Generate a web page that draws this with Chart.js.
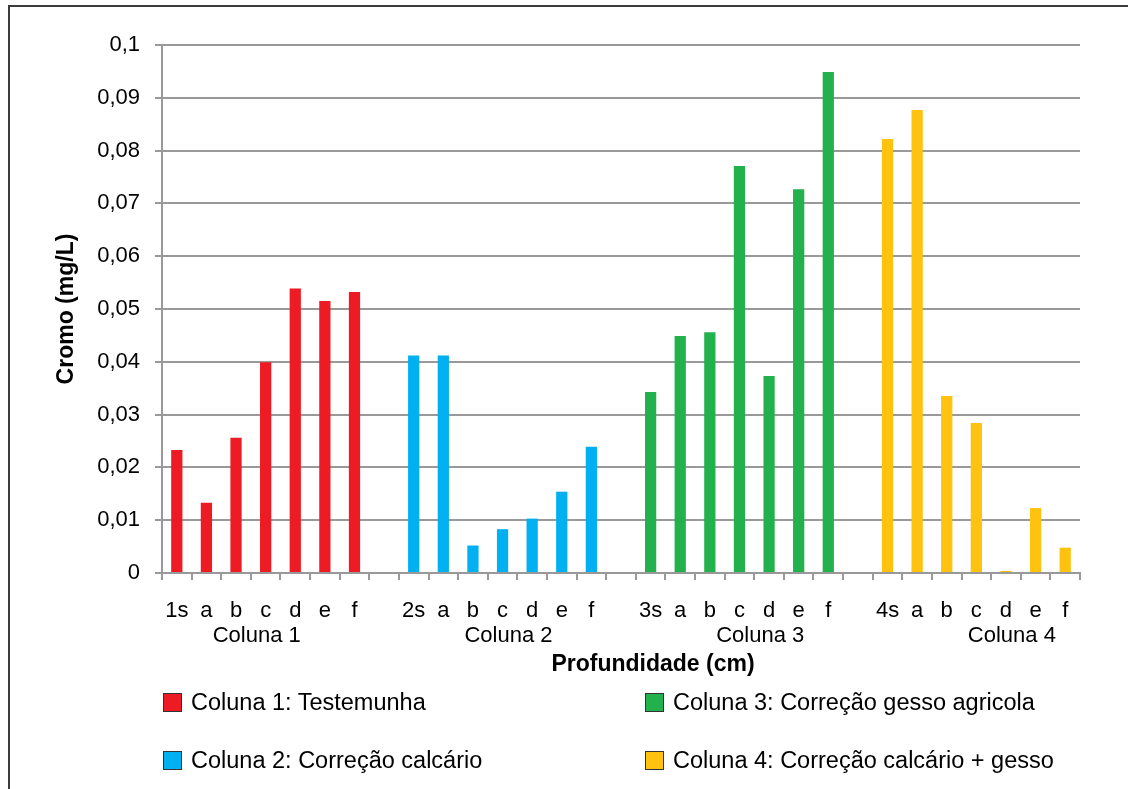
<!DOCTYPE html>
<html>
<head>
<meta charset="utf-8">
<script src="https://cdn.jsdelivr.net/npm/chart.js@4.4.1/dist/chart.umd.min.js"></script>
<style>
  body { margin: 0; width: 1128px; height: 789px; overflow: hidden; background: #fff; font-family: "Liberation Sans", Arial, sans-serif; }
  #frame { position: absolute; left: 8px; top: 5px; width: 1300px; height: 900px; border: 2px solid #3c3c3c; box-sizing: border-box; }
  #chartBox { position: absolute; left: 0; top: 0; }
  #legend { position: absolute; left: 163px; top: 689px; display: grid; grid-template-columns: 482px auto; grid-auto-rows: 58px; }
  .item { display: flex; align-items: center; height: 26px; font-size: 23.5px; color: #000; }
  .box { width: 17px; height: 17px; border: 1.5px solid #333; margin-right: 9px; }
</style>
</head>
<body>
<div id="frame"></div>
<div id="chartBox"><canvas id="cromoChart" width="1128" height="690"></canvas></div>
<div id="legend"></div>
<script>
const xLabels = ['1s','a','b','c','d','e','f','', '2s','a','b','c','d','e','f','',
                 '3s','a','b','c','d','e','f','', '4s','a','b','c','d','e','f'];
const groupNames = ['Coluna 1', 'Coluna 2', 'Coluna 3', 'Coluna 4'];
const seriesNames = ['Coluna 1: Testemunha', 'Coluna 2: Correção calcário',
                     'Coluna 3: Correção gesso agricola', 'Coluna 4: Correção calcário + gesso'];
const coluna1 = [0.0233, 0.0133, 0.0256, 0.0399, 0.0539, 0.0515, 0.0532];
const coluna2 = [0.0412, 0.0412, 0.0052, 0.0083, 0.0103, 0.0154, 0.0239];
const coluna3 = [0.0343, 0.0449, 0.0456, 0.0771, 0.0373, 0.0727, 0.0949];
const coluna4 = [0.0822, 0.0877, 0.0335, 0.0284, 0.0004, 0.0123, 0.0048];
const colors = ['#ed1c24', '#00b0f0', '#22b14c', '#ffc20e'];

const FONT = 'Liberation Sans';

// each coluna sits in its own block of 8 slots (7 depths + a gap)
function spread(values, k) {
  const out = new Array(xLabels.length).fill(null);
  values.forEach((v, i) => { out[k * 8 + i] = v; });
  return out;
}

const allSeries = [coluna1, coluna2, coluna3, coluna4];

// second label row + x title (excel puts the title a bit right of centre)
const groupLabels = {
  id: 'groupLabels',
  afterDraw(chart) {
    const ctx = chart.ctx;
    const x = chart.scales.x;
    ctx.save();
    ctx.fillStyle = '#000';
    ctx.textAlign = 'center';
    ctx.textBaseline = 'middle';
    ctx.font = '22px ' + FONT;
    groupNames.forEach((name, k) => {
      ctx.fillText(name, x.getPixelForValue(2.7 + 8.5 * k), 636);
    });
    ctx.font = 'bold 23px ' + FONT;
    ctx.fillText('Profundidade (cm)', (chart.chartArea.left + chart.chartArea.right) / 2 + 32, 665);
    ctx.restore();
  }
};

const ctx = document.getElementById('cromoChart').getContext('2d');
new Chart(ctx, {
  type: 'bar',
  data: {
    labels: xLabels,
    datasets: allSeries.map((vals, k) => ({
      label: seriesNames[k],
      data: spread(vals, k),
      backgroundColor: colors[k],
      grouped: false,
      barPercentage: 0.38,
      categoryPercentage: 1
    }))
  },
  options: {
    responsive: false,
    animation: false,
    layout: { padding: { left: 0, top: 45, right: 48, bottom: 0 } },
    plugins: { legend: { display: false }, tooltip: { enabled: false } },
    scales: {
      x: {
        afterFit(s) { s.height = 117; },
        grid: { drawOnChartArea: false, offset: true, tickLength: 7, color: '#999', lineWidth: 2 },
        border: { color: '#999', width: 2 },
        ticks: { color: '#000', font: { family: FONT, size: 22 }, padding: 18, autoSkip: false, maxRotation: 0 }
      },
      y: {
        min: 0, max: 0.1,
        afterFit(s) { s.width = 162; },
        grid: { color: '#999', lineWidth: 2, tickLength: 7 },
        border: { color: '#999', width: 2 },
        ticks: {
          stepSize: 0.01, color: '#000', padding: 15,
          font: { family: FONT, size: 22 },
          callback: v => String(Math.round(v * 100) / 100).replace('.', ',')
        },
        title: { display: true, text: 'Cromo (mg/L)', color: '#000',
                 font: { family: FONT, size: 23, weight: 'bold' }, padding: { top: 53 } }
      }
    }
  },
  plugins: [groupLabels]
});

// legend, column-major like the original
const legend = document.getElementById('legend');
[0, 2, 1, 3].forEach(k => {
  const item = document.createElement('div');
  item.className = 'item';
  item.innerHTML = '<span class="box" style="background:' + colors[k] + '"></span>' + seriesNames[k];
  legend.appendChild(item);
});
</script>
</body>
</html>
